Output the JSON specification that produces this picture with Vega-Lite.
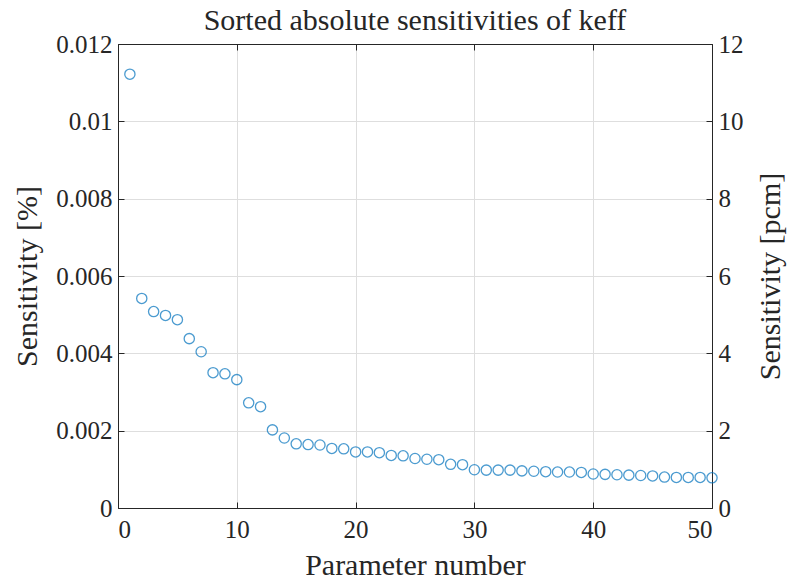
{
  "$schema": "https://vega.github.io/schema/vega-lite/v6.json",
  "width": 594,
  "height": 464,
  "autosize": "none",
  "padding": {"left": 118, "top": 44, "right": 75, "bottom": 75},
  "background": "white",
  "config": {
    "font": "Liberation Serif",
    "view": {"stroke": "#262626", "strokeWidth": 1},
    "axis": {
      "labelFont": "Liberation Serif", "titleFont": "Liberation Serif",
      "labelFontSize": 25, "titleFontSize": 30, "titleFontWeight": "normal",
      "labelColor": "#262626", "titleColor": "#262626",
      "domainColor": "#262626", "tickColor": "#262626",
      "gridColor": "#dedede", "gridWidth": 1,
      "tickSize": -6, "labelPadding": 12
    }
  },
  "title": {"text": "Sorted absolute sensitivities of keff", "fontSize": 30, "font": "Liberation Serif", "fontWeight": "normal", "color": "#262626", "offset": -4},
  "data": {"values": [
    {"n":1,"s":0.01122,"pcm":11.22},{"n":2,"s":0.00542,"pcm":5.42},{"n":3,"s":0.00508,"pcm":5.08},{"n":4,"s":0.00498,"pcm":4.98},{"n":5,"s":0.00487,"pcm":4.87},
    {"n":6,"s":0.00438,"pcm":4.38},{"n":7,"s":0.00404,"pcm":4.04},{"n":8,"s":0.00350,"pcm":3.50},{"n":9,"s":0.00347,"pcm":3.47},{"n":10,"s":0.00332,"pcm":3.32},
    {"n":11,"s":0.00272,"pcm":2.72},{"n":12,"s":0.00262,"pcm":2.62},{"n":13,"s":0.00202,"pcm":2.02},{"n":14,"s":0.00181,"pcm":1.81},{"n":15,"s":0.00166,"pcm":1.66},
    {"n":16,"s":0.00164,"pcm":1.64},{"n":17,"s":0.00163,"pcm":1.63},{"n":18,"s":0.00154,"pcm":1.54},{"n":19,"s":0.00153,"pcm":1.53},{"n":20,"s":0.00145,"pcm":1.45},
    {"n":21,"s":0.00145,"pcm":1.45},{"n":22,"s":0.00143,"pcm":1.43},{"n":23,"s":0.00136,"pcm":1.36},{"n":24,"s":0.00135,"pcm":1.35},{"n":25,"s":0.00128,"pcm":1.28},
    {"n":26,"s":0.00126,"pcm":1.26},{"n":27,"s":0.00125,"pcm":1.25},{"n":28,"s":0.00113,"pcm":1.13},{"n":29,"s":0.00112,"pcm":1.12},{"n":30,"s":0.00099,"pcm":0.99},
    {"n":31,"s":0.00098,"pcm":0.98},{"n":32,"s":0.00098,"pcm":0.98},{"n":33,"s":0.00098,"pcm":0.98},{"n":34,"s":0.00096,"pcm":0.96},{"n":35,"s":0.00095,"pcm":0.95},
    {"n":36,"s":0.00094,"pcm":0.94},{"n":37,"s":0.00093,"pcm":0.93},{"n":38,"s":0.00093,"pcm":0.93},{"n":39,"s":0.00092,"pcm":0.92},{"n":40,"s":0.00088,"pcm":0.88},
    {"n":41,"s":0.00087,"pcm":0.87},{"n":42,"s":0.00086,"pcm":0.86},{"n":43,"s":0.00085,"pcm":0.85},{"n":44,"s":0.00084,"pcm":0.84},{"n":45,"s":0.00083,"pcm":0.83},
    {"n":46,"s":0.00080,"pcm":0.80},{"n":47,"s":0.00079,"pcm":0.79},{"n":48,"s":0.00079,"pcm":0.79},{"n":49,"s":0.00079,"pcm":0.79},{"n":50,"s":0.00078,"pcm":0.78}
  ]},
  "layer": [
    {
      "mark": {"type": "point", "shape": "circle", "filled": false, "stroke": "#0072BD", "strokeWidth": 1.3, "size": 105},
      "encoding": {
        "x": {"field": "n", "type": "quantitative", "scale": {"domain": [0, 50], "nice": false},
              "axis": {"title": "Parameter number", "values": [0,10,20,30,40,50], "titlePadding": 8, "labelPadding": 15}},
        "y": {"field": "s", "type": "quantitative", "scale": {"domain": [0, 0.012], "nice": false},
              "axis": {"title": "Sensitivity [%]", "values": [0,0.002,0.004,0.006,0.008,0.01,0.012],
                       "labelExpr": "datum.value == 0 ? '0' : format(datum.value, '.3~f')", "titlePadding": 13}}
      }
    },
    {
      "mark": {"type": "point", "opacity": 0},
      "encoding": {
        "x": {"field": "n", "type": "quantitative", "scale": {"domain": [0, 50], "nice": false},
              "axis": {"orient": "top", "title": null, "labels": false, "grid": false, "values": [0,10,20,30,40,50]}},
        "y": {"field": "pcm", "type": "quantitative", "scale": {"domain": [0, 12], "nice": false},
              "axis": {"orient": "right", "title": "Sensitivity [pcm]", "titleAngle": 270, "grid": false, "values": [0,2,4,6,8,10,12], "titlePadding": 42}}
      }
    }
  ],
  "resolve": {"scale": {"y": "independent", "x": "independent"}, "axis": {"x": "independent", "y": "independent"}}
}
